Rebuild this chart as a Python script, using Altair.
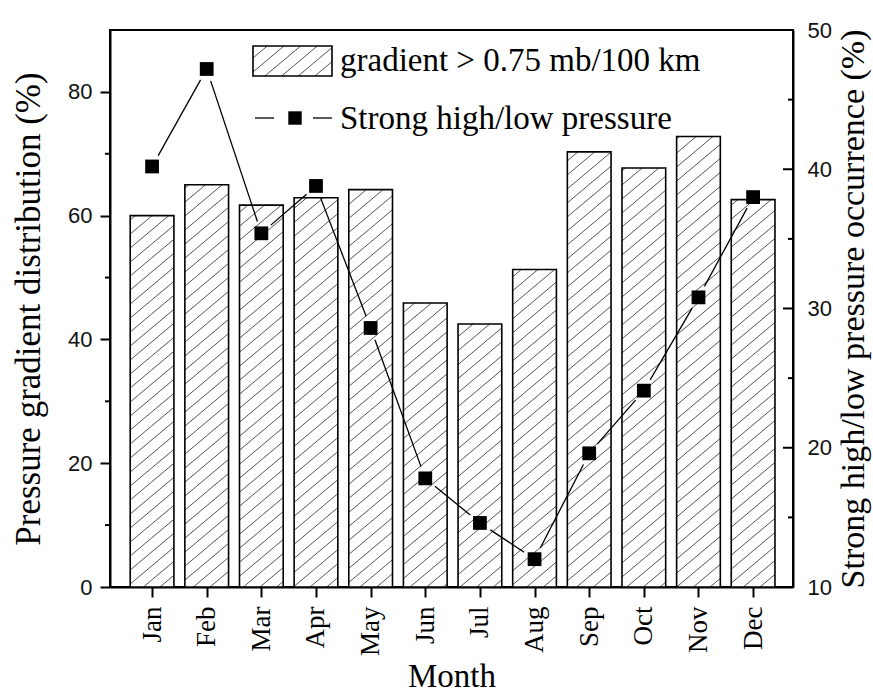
import math
import altair as alt
import pandas as pd

# ---------------- data ----------------
months = ['Jan', 'Feb', 'Mar', 'Apr', 'May', 'Jun', 'Jul', 'Aug', 'Sep', 'Oct', 'Nov', 'Dec']
gradient_pct = [60.0, 65.0, 61.7, 62.9, 64.2, 45.9, 42.5, 51.3, 70.3, 67.7, 72.8, 62.6]
strong_pct = [40.2, 47.2, 35.4, 38.8, 28.6, 17.8, 14.6, 12.0, 19.6, 24.1, 30.8, 38.0]
left_ticks = [0, 20, 40, 60, 80]
left_minor = [10, 30, 50, 70]
right_ticks = [10, 20, 30, 40, 50]
right_minor = [15, 25, 35, 45]
legend_labels = ['gradient > 0.75 mb/100 km', 'Strong high/low pressure']
x_title = 'Month'
left_title = 'Pressure gradient distribution (%)'
right_title = 'Strong high/low pressure occurrence (%)'

# ---------------- layout / style ----------------
W, H = 683, 557
XDOM = [0.23, 12.73]
LDOM = [0, 90]
RDOM = [10, 50]
HALF = 0.4          # half bar width in month units
SERIF = 'Liberation Serif, Times New Roman, serif'
SANS = 'Liberation Sans, Arial, sans-serif'
HATCH_SLOPE = 0.84
HATCH_GAP = 14
HATCH_COLOR = '#555555'
LINE_GAP = 12.5     # px gap between line ends and marker centres

df = pd.DataFrame({'m': list(range(1, len(months) + 1)), 'month': months,
                   'grad': gradient_pct, 'strong': strong_pct})
df['xl'] = df['m'] - HALF
df['xr'] = df['m'] + HALF
df['base'] = 0.0

kx = W / (XDOM[1] - XDOM[0])
ky = H / (LDOM[1] - LDOM[0])
kr = H / (RDOM[1] - RDOM[0])

# hatch segments for each bar (pattern in pixel space, stored in data units)
rows = []
for m, v in zip(df['m'], df['grad']):
    ul = (m - HALF - XDOM[0]) * kx
    ur = (m + HALF - XDOM[0]) * kx
    h = v * ky
    kmin = math.floor(-HATCH_SLOPE * ur / HATCH_GAP) - 1
    kmax = math.ceil((h - HATCH_SLOPE * ul) / HATCH_GAP) + 1
    for k in range(kmin, kmax + 1):
        c = k * HATCH_GAP
        us = max(ul, -c / HATCH_SLOPE)
        ue = min(ur, (h - c) / HATCH_SLOPE)
        if ue - us > 0.5:
            rows.append(dict(hx1=XDOM[0] + us / kx, hx2=XDOM[0] + ue / kx,
                             hy1=(HATCH_SLOPE * us + c) / ky, hy2=(HATCH_SLOPE * ue + c) / ky))
hatch_df = pd.DataFrame(rows)

# connecting line segments, shortened near the markers (Origin-style gaps)
segs = []
for (m1, s1), (m2, s2) in zip(zip(df['m'], df['strong']), list(zip(df['m'], df['strong']))[1:]):
    u1, v1 = (m1 - XDOM[0]) * kx, (s1 - RDOM[0]) * kr
    u2, v2 = (m2 - XDOM[0]) * kx, (s2 - RDOM[0]) * kr
    L = math.hypot(u2 - u1, v2 - v1)
    if L <= 2 * LINE_GAP:
        continue
    du, dv = (u2 - u1) / L, (v2 - v1) / L
    a_u, a_v = u1 + du * LINE_GAP, v1 + dv * LINE_GAP
    b_u, b_v = u2 - du * LINE_GAP, v2 - dv * LINE_GAP
    segs.append(dict(sx1=XDOM[0] + a_u / kx, sx2=XDOM[0] + b_u / kx,
                     sy1=RDOM[0] + a_v / kr, sy2=RDOM[0] + b_v / kr))
seg_df = pd.DataFrame(segs)

# ---------------- scales / axes ----------------
xscale = alt.Scale(domain=XDOM, nice=False, zero=False)
lscale = alt.Scale(domain=LDOM, nice=False, zero=False)
rscale = alt.Scale(domain=RDOM, nice=False, zero=False)

label_expr = '[' + ','.join("'%s'" % mo for mo in months) + '][datum.value - 1]'
x_axis = alt.Axis(orient='bottom', values=list(range(1, len(months) + 1)), labelExpr=label_expr,
                  tickSize=10, tickWidth=2, tickColor='black', domainColor='black', domainWidth=2,
                  labelFont=SERIF, labelFontSize=27, labelColor='black', labelAngle=270,
                  labelAlign='right', labelBaseline='middle', labelPadding=9,
                  labelFlush=False, labelOverlap=False, labelBound=False,
                  title=x_title, titleFont=SERIF, titleFontSize=33, titleFontWeight='normal',
                  titleColor='black', titleY=99, titleBaseline='alphabetic', grid=False)

left_axis = alt.Axis(orient='left', values=left_ticks, tickSize=10, tickWidth=2, tickColor='black',
                     domainColor='black', domainWidth=2, labelFont=SANS, labelFontSize=22,
                     labelColor='#111111', labelPadding=8, labelFlush=False, labelOverlap=False,
                     title=left_title, titleFont=SERIF, titleFontSize=35, titleFontWeight='normal',
                     titleColor='black', titleAngle=270, titleX=-71, titleY=H / 2,
                     titleAlign='center', titleBaseline='alphabetic', grid=False)

right_axis = alt.Axis(orient='right', values=right_ticks, ticks=False, tickSize=0,
                      domainColor='black', domainWidth=2, labelFont=SANS, labelFontSize=22,
                      labelColor='#111111', labelPadding=14, labelFlush=False, labelOverlap=False,
                      title=right_title, titleFont=SERIF, titleFontSize=34, titleFontWeight='normal',
                      titleColor='black', titleAngle=270, titleX=70, titleY=H / 2,
                      titleAlign='center', titleBaseline='alphabetic', grid=False)


def X(field):
    return alt.X(field, type='quantitative', scale=xscale, axis=x_axis)


def YL(field):
    return alt.Y(field, type='quantitative', scale=lscale, axis=left_axis)


def YR(field):
    return alt.Y(field, type='quantitative', scale=rscale, axis=right_axis)


one = alt.Data(values=[{}])

# ---------------- left (bars) ----------------
bars_fill = alt.Chart(df).mark_rect(fill='white', strokeWidth=0).encode(
    x=X('xl'), x2='xr', y=YL('grad'), y2='base')
hatch = alt.Chart(hatch_df).mark_rule(color=HATCH_COLOR, strokeWidth=1).encode(
    x=X('hx1'), x2='hx2', y=YL('hy1'), y2='hy2')
bars_outline = alt.Chart(df).mark_rect(fill='white', fillOpacity=0, stroke='black', strokeWidth=1.6).encode(
    x=X('xl'), x2='xr', y=YL('grad'), y2='base')
lminor = alt.Chart(pd.DataFrame({'v': left_minor})).mark_rule(color='black', strokeWidth=2).encode(
    y=YL('v'), x=alt.value(-5), x2=alt.value(0))

# legend (fixed pixel positions inside the plot)
LX1, LX2, LY1, LY2 = 143, 222, 16, 46
legend_layers = [
    alt.Chart(one).mark_rect(fill='white', strokeWidth=0).encode(
        x=alt.value(LX1), x2=alt.value(LX2), y=alt.value(LY1), y2=alt.value(LY2))
]
lw, lh = LX2 - LX1, LY2 - LY1
for k in range(math.floor(-HATCH_SLOPE * lw / HATCH_GAP) - 1, math.ceil(lh / HATCH_GAP) + 2):
    c = k * HATCH_GAP + 4
    us = max(0, -c / HATCH_SLOPE)
    ue = min(lw, (lh - c) / HATCH_SLOPE)
    if ue - us > 0.5:
        legend_layers.append(
            alt.Chart(one).mark_rule(color=HATCH_COLOR, strokeWidth=1).encode(
                x=alt.value(LX1 + us), x2=alt.value(LX1 + ue),
                y=alt.value(LY2 - (HATCH_SLOPE * us + c)), y2=alt.value(LY2 - (HATCH_SLOPE * ue + c))))
legend_layers += [
    alt.Chart(one).mark_rect(fill='white', fillOpacity=0, stroke='black', strokeWidth=1.6).encode(
        x=alt.value(LX1), x2=alt.value(LX2), y=alt.value(LY1), y2=alt.value(LY2)),
    alt.Chart(one).mark_text(align='left', baseline='alphabetic', font=SERIF, fontSize=33,
                             color='black').encode(
        x=alt.value(230), y=alt.value(41), text=alt.value(legend_labels[0])),
    alt.Chart(one).mark_rule(color='black', strokeWidth=1.3).encode(
        x=alt.value(145), x2=alt.value(164), y=alt.value(88)),
    alt.Chart(one).mark_rule(color='black', strokeWidth=1.3).encode(
        x=alt.value(203), x2=alt.value(222), y=alt.value(88)),
    alt.Chart(one).mark_point(shape='square', filled=True, size=180, color='black', opacity=1).encode(
        x=alt.value(185), y=alt.value(88)),
    alt.Chart(one).mark_text(align='left', baseline='alphabetic', font=SERIF, fontSize=33,
                             color='black').encode(
        x=alt.value(230), y=alt.value(99), text=alt.value(legend_labels[1])),
]

left_group = alt.layer(bars_fill, hatch, bars_outline, lminor, *legend_layers)

# ---------------- right (line) ----------------
line = alt.Chart(seg_df).mark_rule(color='black', strokeWidth=1.3).encode(
    x=X('sx1'), x2='sx2', y=YR('sy1'), y2='sy2')
pts = alt.Chart(df).mark_point(shape='square', filled=True, size=190, color='black', opacity=1).encode(
    x=X('m'), y=YR('strong'))
rmajor = alt.Chart(pd.DataFrame({'v': right_ticks})).mark_rule(color='black', strokeWidth=2).encode(
    y=YR('v'), x=alt.value(W - 10), x2=alt.value(W))
rminor = alt.Chart(pd.DataFrame({'v': right_minor})).mark_rule(color='black', strokeWidth=2).encode(
    y=YR('v'), x=alt.value(W - 5), x2=alt.value(W))

right_group = alt.layer(line, pts, rmajor, rminor)

chart = alt.layer(left_group, right_group).resolve_scale(y='independent').properties(
    width=W, height=H,
    autosize=alt.AutoSizeParams(type='none'),
    padding={'left': 110, 'top': 30, 'right': 873 - 110 - W, 'bottom': 693 - 30 - H},
    background='white',
).configure_view(stroke='black', strokeWidth=2)

chart.save('out.html', embed_options={'renderer': 'svg', 'actions': False})
